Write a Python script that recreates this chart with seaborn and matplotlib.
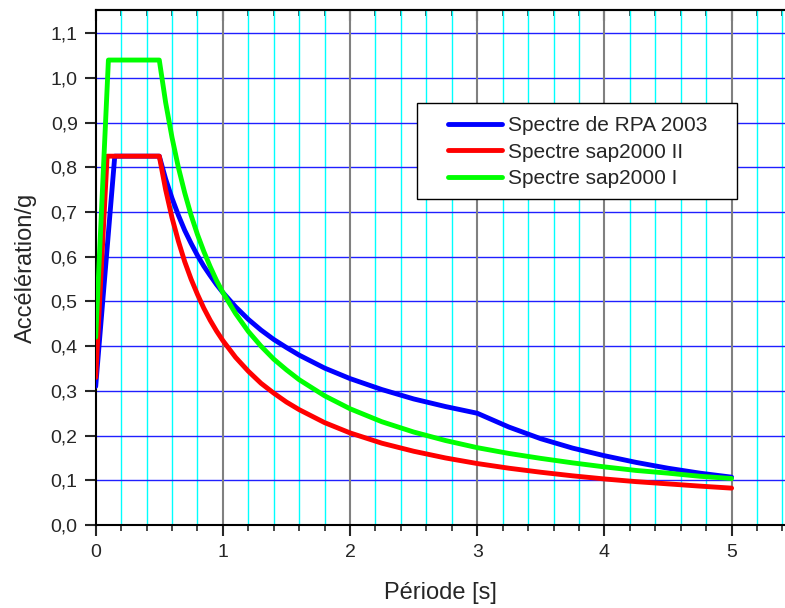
import matplotlib
matplotlib.use("Agg")
import matplotlib.pyplot as plt
import numpy as np
import pandas as pd
import seaborn as sns
from matplotlib.patches import Rectangle
from matplotlib.ticker import MultipleLocator, FixedLocator

# Periods for the descending branch
decay_periods = [0.5, 0.55, 0.6, 0.65, 0.7, 0.75, 0.8, 0.85, 0.9, 0.95, 1.0, 1.1, 1.2, 1.3,
                 1.4, 1.5, 1.6, 1.8, 2.0, 2.25, 2.5, 2.75, 3.0, 3.25, 3.5, 3.75, 4.0, 4.25,
                 4.5, 4.75, 5.0]

# Spectre de RPA 2003 (blue)
rpa_periods = [0.0, 0.01, 0.15] + decay_periods
rpa_values = [0.31, 0.345, 0.825,
              0.825, 0.774, 0.731, 0.693, 0.659, 0.630, 0.603, 0.579, 0.558, 0.538, 0.520,
              0.488, 0.460, 0.436, 0.415, 0.397, 0.380, 0.351, 0.3275, 0.303, 0.282, 0.265,
              0.250, 0.219, 0.193, 0.172, 0.155, 0.140, 0.127, 0.116, 0.107]

# Spectre sap2000 II (red)
sap2_periods = [0.0, 0.09] + decay_periods
sap2_values = [0.33, 0.825,
               0.825, 0.75, 0.6875, 0.635, 0.589, 0.55, 0.516, 0.485, 0.458, 0.434, 0.4125,
               0.375, 0.344, 0.317, 0.295, 0.275, 0.258, 0.229, 0.206, 0.183, 0.165, 0.150,
               0.1375, 0.127, 0.118, 0.110, 0.103, 0.097, 0.092, 0.087, 0.0825]

# Spectre sap2000 I (green)
sap1_periods = [0.0, 0.1] + decay_periods
sap1_values = [0.42, 1.04,
               1.04, 0.945, 0.867, 0.80, 0.743, 0.693, 0.65, 0.612, 0.578, 0.547, 0.52,
               0.473, 0.433, 0.40, 0.371, 0.347, 0.325, 0.289, 0.26, 0.231, 0.208, 0.189,
               0.173, 0.16, 0.149, 0.139, 0.13, 0.122, 0.116, 0.109, 0.104]

series_names = ["Spectre de RPA 2003", "Spectre sap2000 II", "Spectre sap2000 I"]
series_colors = ["#0000ff", "#ff0000", "#00ff00"]

y_ticks = [0.0, 0.1, 0.2, 0.3, 0.4, 0.5, 0.6, 0.7, 0.8, 0.9, 1.0, 1.1]
y_ticklabels = ["0,0", "0,1", "0,2", "0,3", "0,4", "0,5", "0,6", "0,7", "0,8", "0,9", "1,0", "1,1"]
x_ticks = [0, 1, 2, 3, 4, 5]
x_ticklabels = ["0", "1", "2", "3", "4", "5"]

df = pd.concat([
    pd.DataFrame({"T": rpa_periods, "Sa": rpa_values, "Spectre": series_names[0]}),
    pd.DataFrame({"T": sap2_periods, "Sa": sap2_values, "Spectre": series_names[1]}),
    pd.DataFrame({"T": sap1_periods, "Sa": sap1_values, "Spectre": series_names[2]}),
], ignore_index=True)

sns.set_style("white")
plt.rcParams["font.family"] = ["Liberation Sans", "DejaVu Sans"]

fig = plt.figure(figsize=(7.85, 6.08), dpi=100)
ax = fig.add_axes([0.1219, 0.1365, 0.8781, 0.8471])

sns.lineplot(data=df, x="T", y="Sa", hue="Spectre", palette=series_colors,
             hue_order=series_names, estimator=None, sort=False,
             linewidth=3.5, ax=ax, zorder=3)

ax.set_xlim(0, 5.42)
ax.set_ylim(0, 1.152)

# grid: grey major x, cyan minor x, blue horizontal
ax.xaxis.set_major_locator(FixedLocator(x_ticks))
ax.xaxis.set_minor_locator(MultipleLocator(0.2))
ax.set_yticks(y_ticks)
ax.set_xticklabels(x_ticklabels)
ax.set_yticklabels(y_ticklabels)
ax.grid(False)
for xv in np.arange(0.2, 5.42, 0.2):
    if abs(xv - round(xv)) > 1e-6:
        ax.axvline(xv, color="#00ffff", linewidth=1, zorder=1)
for xv in x_ticks[1:]:
    ax.axvline(xv, color="#808080", linewidth=1.5, zorder=1.5)
for yv in y_ticks[1:]:
    ax.axhline(yv, color="#2020ff", linewidth=1, zorder=1)

for side in ["left", "bottom", "top"]:
    ax.spines[side].set_visible(True)
    ax.spines[side].set_color("black")
    ax.spines[side].set_linewidth(1.5)
ax.spines["right"].set_visible(False)

ax.tick_params(axis="x", which="major", direction="out", length=8, width=1.5,
               labelsize=14, pad=6, bottom=True, top=False)
ax.tick_params(axis="x", which="minor", direction="out", length=4, width=1.2,
               bottom=True, top=False)
ax.tick_params(axis="y", which="major", direction="out", length=8, width=1.5,
               labelsize=14, pad=5, left=True, right=False)

top = ax.secondary_xaxis("top")
top.xaxis.set_major_locator(FixedLocator(x_ticks))
top.xaxis.set_minor_locator(MultipleLocator(0.2))
top.tick_params(axis="x", which="major", direction="in", length=8, width=1.5, labeltop=False)
top.tick_params(axis="x", which="minor", direction="in", length=4, width=1.2)
top.spines["top"].set_linewidth(1.5)

ax.set_xlabel("Période [s]", fontsize=17, labelpad=15)
ax.set_ylabel("Accélération/g", fontsize=17, labelpad=10)

# legend box drawn separately, legend entries placed inside it
ax.add_patch(Rectangle((0.5308, 0.6727), 0.408, 0.1584, transform=fig.transFigure,
                       facecolor="white", edgecolor="black", linewidth=1.0,
                       zorder=4, clip_on=False))
handles, labels = ax.get_legend_handles_labels()
leg = ax.legend(handles, labels, loc="upper left", bbox_to_anchor=(0.5707, 0.8092),
                bbox_transform=fig.transFigure, fontsize=15, frameon=False,
                borderpad=0, labelspacing=0.36, handlelength=2.6, handletextpad=0.3,
                borderaxespad=0)
leg.set_zorder(5)
for line in leg.get_lines():
    line.set_linewidth(3.5)

fig.savefig("out.png", dpi=100)
